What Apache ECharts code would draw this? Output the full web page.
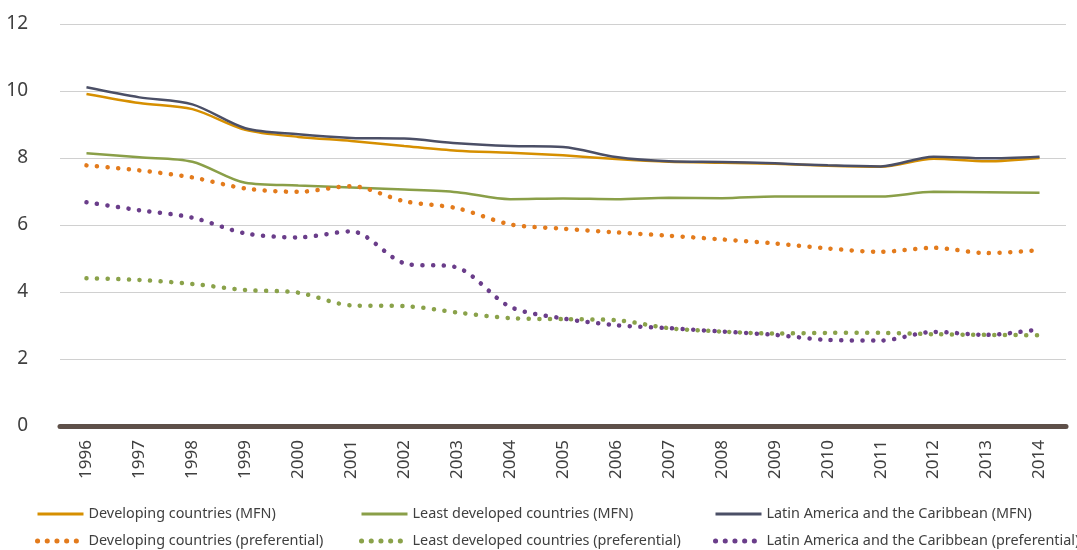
<!DOCTYPE html>
<html><head><meta charset="utf-8">
<script src="https://cdn.jsdelivr.net/npm/echarts@6/dist/echarts.min.js"></script>
<style>html,body{margin:0;padding:0;background:#fff}#c{width:1077px;height:550px}</style>
</head><body><div id="c"></div>
<script>
const years = ['1996','1997','1998','1999','2000','2001','2002','2003','2004','2005','2006','2007','2008','2009','2010','2011','2012','2013','2014'];
const devMFN = [9.91,9.64,9.46,8.84,8.63,8.51,8.36,8.22,8.16,8.08,7.97,7.89,7.86,7.83,7.77,7.74,7.98,7.90,8.00];
const ldcMFN = [8.14,8.02,7.89,7.26,7.18,7.12,7.06,6.98,6.77,6.79,6.77,6.81,6.80,6.85,6.85,6.85,6.99,6.98,6.96];
const lacMFN = [10.11,9.81,9.60,8.89,8.71,8.60,8.58,8.44,8.36,8.33,8.03,7.90,7.88,7.84,7.78,7.75,8.04,7.99,8.04];
const devPref = [7.78,7.63,7.42,7.09,6.99,7.16,6.71,6.50,6.02,5.89,5.78,5.68,5.57,5.45,5.30,5.20,5.32,5.16,5.25];
const ldcPref = [4.41,4.36,4.24,4.06,3.98,3.60,3.58,3.39,3.22,3.19,3.16,2.92,2.82,2.76,2.78,2.78,2.74,2.72,2.71];
const lacPref = [6.68,6.44,6.22,5.75,5.63,5.81,4.86,4.73,3.56,3.21,3.01,2.92,2.82,2.72,2.57,2.55,2.81,2.72,2.89];
const yTicks = [0,2,4,6,8,10,12];

const FONT = "'Noto Sans',sans-serif";
const names = {
  devMFN:'Developing countries (MFN)', ldcMFN:'Least developed countries (MFN)', lacMFN:'Latin America and the Caribbean (MFN)',
  devPref:'Developing countries (preferential)', ldcPref:'Least developed countries (preferential)', lacPref:'Latin America and the Caribbean (preferential)'
};
function solid(name, data, color){
  return {name, type:'line', data, smooth:0.3, symbol:'none', lineStyle:{color, width:2.5}, itemStyle:{color}};
}
function dotted(name, data, color){
  return {name, type:'line', data, smooth:0.3, symbol:'none', lineStyle:{color, width:4.5, type:[0.1,10.5], cap:'round'}, itemStyle:{color}};
}
function legendAt(left, mfn, pref){
  return {orient:'vertical', left, top:500, height:60, itemWidth:46, itemHeight:5, itemGap:9,
    data:[{name:mfn, lineStyle:{width:3}},
          {name:pref, lineStyle:{width:5, type:[0.1,9.6], cap:'round'}}],
    itemStyle:{opacity:0},
    textStyle:{fontFamily:FONT, fontSize:14.4, color:'#404040', lineHeight:18}};
}
const chart = echarts.init(document.getElementById('c'));
chart.setOption({
  animation:false,
  grid:{left:60, right:11, top:24, bottom:124},
  legend:[
    legendAt(30, names.devMFN, names.devPref),
    legendAt(354, names.ldcMFN, names.ldcPref),
    legendAt(708, names.lacMFN, names.lacPref)
  ],
  xAxis:{type:'category', data:years, boundaryGap:true,
    axisLine:{lineStyle:{color:'#5e5049', width:5}}, axisTick:{show:false},
    axisLabel:{rotate:90, fontFamily:FONT, fontSize:17, color:'#404040', margin:14}},
  yAxis:{type:'value', min:0, max:12, interval:2,
    axisLine:{show:false}, axisTick:{show:false},
    splitLine:{lineStyle:{color:'#d0d0d0', width:1}},
    axisLabel:{fontFamily:FONT, fontSize:19, color:'#404040', margin:32,
      formatter:v=>yTicks.includes(v)?String(v):''}},
  series:[
    solid(names.devMFN, devMFN, '#d68f00'),
    solid(names.ldcMFN, ldcMFN, '#8a9f48'),
    solid(names.lacMFN, lacMFN, '#4b4f66'),
    dotted(names.devPref, devPref, '#e37b1c'),
    dotted(names.ldcPref, ldcPref, '#8aa24a'),
    dotted(names.lacPref, lacPref, '#6a3d8a')
  ]
});
</script></body></html>
